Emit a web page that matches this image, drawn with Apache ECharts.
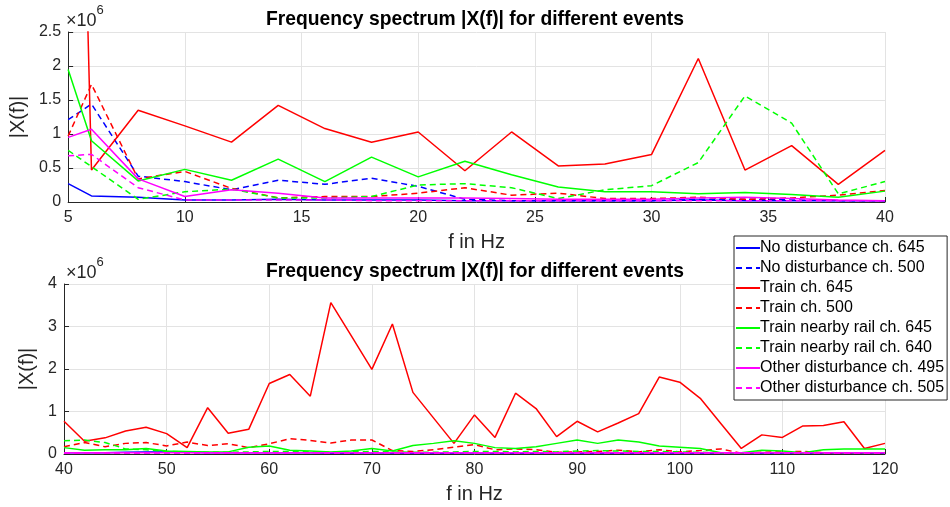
<!DOCTYPE html>
<html><head><meta charset="utf-8">
<script src="https://cdn.jsdelivr.net/npm/echarts@6/dist/echarts.min.js"></script>
<style>html,body{margin:0;padding:0;background:#fff}#c{width:950px;height:507px}</style>
</head><body><div id="c"></div>
<script>
// values in units of 1e6
const freqTop = [5,6,8,10,12,14,16,18,20,22,24,26,28,30,32,34,36,38,40];
const noDist645Top = [0.27,0.09,0.07,0.03,0.03,0.04,0.03,0.03,0.03,0.02,0.02,0.02,0.02,0.02,0.03,0.02,0.02,0.02,0.02];
const noDist500Top = [1.21,1.44,0.38,0.30,0.18,0.32,0.26,0.35,0.23,0.04,0.02,0.02,0.02,0.02,0.04,0.04,0.03,0.02,0.02];
const train645Top = [14,0.47,1.35,1.12,0.88,1.42,1.08,0.88,1.03,0.46,1.03,0.53,0.56,0.70,2.11,0.47,0.83,0.26,0.76];
const train500Top = [0.97,1.73,0.34,0.45,0.20,0.06,0.08,0.08,0.13,0.21,0.10,0.13,0.05,0.05,0.07,0.04,0.06,0.10,0.17];
const nearby645Top = [1.95,0.90,0.31,0.48,0.32,0.63,0.30,0.66,0.37,0.60,0.40,0.22,0.15,0.15,0.12,0.14,0.11,0.07,0.16];
const nearby640Top = [0.76,0.52,0.04,0.15,0.19,0.06,0.06,0.08,0.25,0.27,0.21,0.05,0.18,0.24,0.58,1.56,1.16,0.12,0.30];
const other495Top = [0.95,1.07,0.34,0.08,0.18,0.13,0.06,0.06,0.06,0.06,0.05,0.04,0.04,0.04,0.06,0.07,0.05,0.03,0.02];
const other505Top = [0.68,0.70,0.21,0.03,0.03,0.03,0.03,0.02,0.02,0.02,0.02,0.02,0.02,0.02,0.02,0.02,0.02,0.02,0.02];

const freqBot = [40,42,44,46,48,50,52,54,56,58,60,62,64,66,68,70,72,74,76,78,80,82,84,86,88,90,92,94,96,98,100,102,104,106,108,110,112,114,116,118,120];
const noDist645Bot = [0.03,0.03,0.03,0.04,0.05,0.05,0.04,0.03,0.03,0.03,0.03,0.03,0.03,0.02,0.02,0.03,0.02,0.02,0.02,0.02,0.03,0.02,0.02,0.02,0.03,0.02,0.02,0.02,0.02,0.02,0.02,0.02,0.02,0.02,0.02,0.02,0.02,0.02,0.02,0.02,0.02];
const noDist500Bot = [0.02,0.02,0.02,0.02,0.03,0.02,0.02,0.02,0.02,0.02,0.02,0.02,0.02,0.02,0.02,0.02,0.03,0.03,0.03,0.02,0.02,0.02,0.02,0.02,0.02,0.02,0.02,0.02,0.02,0.02,0.02,0.02,0.02,0.02,0.02,0.02,0.02,0.02,0.02,0.02,0.02];
const train645Bot = [0.77,0.30,0.38,0.54,0.63,0.48,0.15,1.09,0.49,0.58,1.66,1.87,1.36,3.56,2.78,1.99,3.06,1.45,0.85,0.25,0.92,0.39,1.43,1.07,0.41,0.77,0.52,0.73,0.95,1.81,1.69,1.31,0.72,0.13,0.45,0.39,0.66,0.67,0.76,0.13,0.25];
const train500Bot = [0.17,0.27,0.17,0.25,0.27,0.19,0.28,0.20,0.24,0.15,0.24,0.36,0.32,0.26,0.33,0.33,0.08,0.06,0.10,0.16,0.22,0.10,0.12,0.10,0.04,0.05,0.06,0.09,0.05,0.10,0.05,0.08,0.12,0.02,0.04,0.05,0.06,0.03,0.02,0.03,0.03];
const nearby645Bot = [0.15,0.09,0.10,0.10,0.13,0.07,0.06,0.05,0.05,0.16,0.19,0.09,0.07,0.05,0.07,0.13,0.07,0.20,0.25,0.31,0.25,0.15,0.13,0.17,0.25,0.33,0.25,0.33,0.28,0.19,0.16,0.13,0.03,0.03,0.09,0.07,0.03,0.10,0.12,0.12,0.12];
const nearby640Bot = [0.31,0.33,0.27,0.12,0.10,0.06,0.05,0.04,0.04,0.05,0.06,0.06,0.05,0.04,0.05,0.06,0.05,0.04,0.04,0.05,0.06,0.06,0.05,0.06,0.05,0.07,0.08,0.07,0.06,0.06,0.05,0.04,0.03,0.02,0.03,0.03,0.02,0.02,0.02,0.02,0.03];
const other495Bot = [0.03,0.03,0.03,0.03,0.03,0.03,0.03,0.03,0.03,0.03,0.03,0.03,0.03,0.03,0.03,0.03,0.03,0.03,0.03,0.03,0.03,0.03,0.03,0.03,0.03,0.03,0.03,0.03,0.03,0.03,0.03,0.03,0.03,0.03,0.03,0.03,0.03,0.03,0.03,0.03,0.03];
const other505Bot = [0.02,0.02,0.02,0.02,0.02,0.02,0.02,0.02,0.02,0.02,0.02,0.02,0.02,0.02,0.02,0.02,0.02,0.02,0.02,0.02,0.02,0.02,0.02,0.02,0.02,0.02,0.02,0.02,0.02,0.02,0.02,0.02,0.02,0.02,0.02,0.02,0.02,0.02,0.02,0.02,0.02];

const seriesNames = ['No disturbance ch. 645','No disturbance ch. 500','Train ch. 645','Train ch. 500','Train nearby rail ch. 645','Train nearby rail ch. 640','Other disturbance ch. 495','Other disturbance ch. 505'];
const seriesColors = ['#0000ff','#0000ff','#ff0000','#ff0000','#00ff00','#00ff00','#ff00ff','#ff00ff'];
const seriesDashed = [false,true,false,true,false,true,false,true];
const topVals = [noDist645Top,noDist500Top,train645Top,train500Top,nearby645Top,nearby640Top,other495Top,other505Top];
const botVals = [noDist645Bot,noDist500Bot,train645Bot,train500Bot,nearby645Bot,nearby640Bot,other495Bot,other505Bot];
const titleText = 'Frequency spectrum |X(f)| for different events';

const FONT = '"Liberation Sans", Arial, Helvetica, sans-serif';
const chart = echarts.init(document.getElementById('c'), null, {renderer:'canvas'});

function mk(i, axisIdx, freqs, vals) {
  return {
    name: seriesNames[i], type: 'line', xAxisIndex: axisIdx, yAxisIndex: axisIdx,
    data: freqs.map((f, k) => [f, vals[k]]),
    symbol: 'none', showSymbol: false, clip: true, animation: false,
    lineStyle: {color: seriesColors[i], width: 1.5, type: seriesDashed[i] ? [6,4] : 'solid'},
    itemStyle: {color: seriesColors[i]},
    emphasis: {disabled: true}
  };
}
const series = [];
for (let i = 0; i < 8; i++) series.push(mk(i, 0, freqTop, topVals[i]));
for (let i = 0; i < 8; i++) series.push(mk(i, 1, freqBot, botVals[i]));

function xAx(idx, min, max, interval) {
  return {
    type: 'value', gridIndex: idx, min, max, interval,
    name: 'f in Hz', nameLocation: 'middle', nameGap: 30,
    nameTextStyle: {fontFamily: FONT, fontSize: 20, color: '#262626'},
    axisLine: {show: true, onZero: false, lineStyle: {color: '#262626', width: 1}},
    axisTick: {show: true, inside: true, length: 5, lineStyle: {color: '#262626'}},
    axisLabel: {fontFamily: FONT, fontSize: 16, color: '#262626', margin: 8},
    splitLine: {show: true, lineStyle: {color: '#e3e3e3', width: 1}}
  };
}
function yAx(idx, min, max, interval) {
  return {
    type: 'value', gridIndex: idx, min, max, interval,
    name: '|X(f)|', nameLocation: 'middle', nameGap: 24,
    nameTextStyle: {fontFamily: FONT, fontSize: 20, color: '#262626'},
    axisLine: {show: true, lineStyle: {color: '#262626', width: 1}},
    axisTick: {show: true, inside: true, length: 5, lineStyle: {color: '#262626'}},
    axisLabel: {fontFamily: FONT, fontSize: 16, color: '#262626', margin: 7},
    splitLine: {show: true, lineStyle: {color: '#e3e3e3', width: 1}}
  };
}

const supRich = {
  a: {fontFamily: FONT, fontSize: 18, fill: '#262626', padding: [8,0,0,0]},
  b: {fontFamily: FONT, fontSize: 13, fill: '#262626', verticalAlign: 'top'}
};

const option = {
  backgroundColor: '#fff',
  animation: false,
  title: [
    {text: titleText, left: 'center', top: 5, textStyle: {fontFamily: FONT, fontSize: 19.3, fontWeight: 'bold', color: '#000'}},
    {text: titleText, left: 'center', top: 257, textStyle: {fontFamily: FONT, fontSize: 19.3, fontWeight: 'bold', color: '#000'}}
  ],
  grid: [
    {left: 64, top: 32, width: 821, height: 170, containLabel: false},
    {left: 64, top: 284, width: 821, height: 170, containLabel: false}
  ],
  xAxis: [xAx(0, 5, 40, 5), xAx(1, 40, 120, 10)],
  yAxis: [yAx(0, 0, 2.5, 0.5), yAx(1, 0, 4, 1)],
  legend: {
    data: seriesNames, orient: 'vertical', left: 734, top: 236,
    itemWidth: 24, itemHeight: 12, itemGap: 2,
    padding: [3, 3, 3, 1],
    backgroundColor: '#fff', borderColor: '#262626', borderWidth: 1,
    itemStyle: {opacity: 0},
    textStyle: {fontFamily: FONT, fontSize: 16, lineHeight: 18, color: '#000', padding: [0,0,0,-5]},
    selectedMode: false, z: 10
  },
  graphic: [
    {type: 'text', left: 66, top: 4, z: 5, style: {text: '{a|×10}{b|6}', rich: supRich}},
    {type: 'text', left: 66, top: 256, z: 5, style: {text: '{a|×10}{b|6}', rich: supRich}}
  ],
  series
};
chart.setOption(option);
</script></body></html>
